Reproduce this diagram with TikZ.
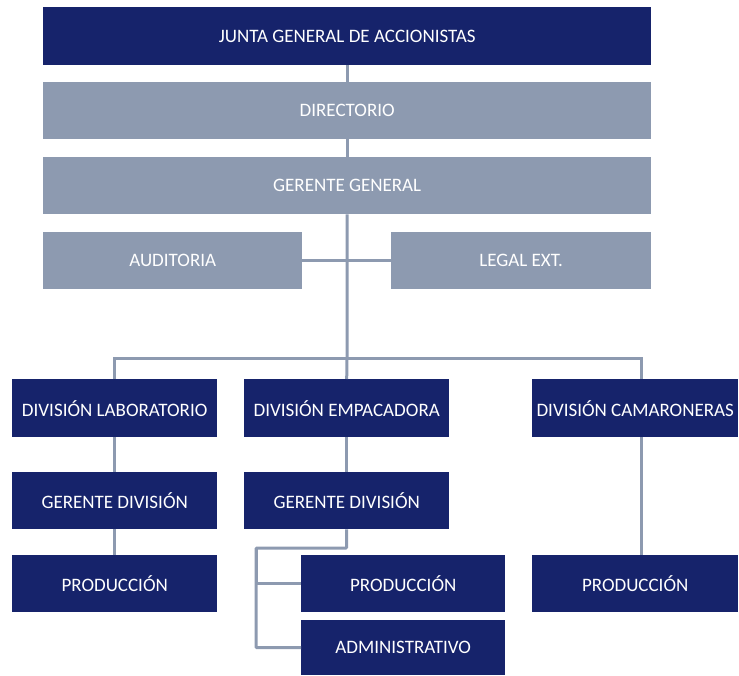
\documentclass[tikz,border=0pt]{standalone}
\usepackage{fontspec}
\setmainfont{Carlito}
\definecolor{navy}{HTML}{16236B}
\definecolor{slate}{HTML}{8D9AB0}
\begin{document}
\begin{tikzpicture}[x=1pt,y=-1pt,
  boxbase/.style={anchor=north west,inner sep=0pt,text=white,font=\fontsize{19}{21}\selectfont,align=center},
  darkbox/.style={boxbase,fill=navy},
  lightbox/.style={boxbase,fill=slate},
  link/.style={draw=slate,line width=3pt}]
\useasboundingbox (0,0) rectangle (739,675);
% top chain
\node[darkbox,minimum width=608pt,minimum height=58pt] (junta) at (43,7) {JUNTA GENERAL DE ACCIONISTAS};
\node[lightbox,minimum width=608pt,minimum height=57pt] (dir) at (43,82) {DIRECTORIO};
\node[lightbox,minimum width=608pt,minimum height=57pt] (ger) at (43,157) {GERENTE GENERAL};
\node[lightbox,minimum width=259pt,minimum height=57pt] (aud) at (43,232) {AUDITORIA};
\node[lightbox,minimum width=260pt,minimum height=57pt] (legal) at (391,232) {LEGAL EXT.};
% divisions
\node[darkbox,minimum width=205pt,minimum height=58pt] (dlab) at (12,379) {DIVISIÓN LABORATORIO};
\node[darkbox,minimum width=205pt,minimum height=58pt] (demp) at (244,379) {DIVISIÓN EMPACADORA};
\node[darkbox,minimum width=206pt,minimum height=58pt] (dcam) at (532,379) {DIVISIÓN CAMARONERAS};
\node[darkbox,minimum width=205pt,minimum height=57pt] (glab) at (12,472) {GERENTE DIVISIÓN};
\node[darkbox,minimum width=205pt,minimum height=57pt] (gemp) at (244,472) {GERENTE DIVISIÓN};
\node[darkbox,minimum width=205pt,minimum height=57pt] (plab) at (12,555) {PRODUCCIÓN};
\node[darkbox,minimum width=204pt,minimum height=57pt] (pemp) at (301,555) {PRODUCCIÓN};
\node[darkbox,minimum width=204pt,minimum height=55pt] (adm) at (301,620) {ADMINISTRATIVO};
\node[darkbox,minimum width=206pt,minimum height=57pt] (pcam) at (532,555) {PRODUCCIÓN};
% connectors
\coordinate (bar) at (347,358);
\coordinate (elb) at (256,548);
\draw[link] (junta.south) -- (dir.north);
\draw[link] (dir.south) -- (ger.north);
\draw[link] (ger.south) -- (bar);
\draw[link] (aud.east) -- (legal.west);
\draw[link] (dlab.north) |- (bar) -| ([xshift=6pt]dcam.north);
\draw[link] (bar) -- (demp.north);
\draw[link] (dlab.south) -- (glab.north);
\draw[link] (glab.south) -- (plab.north);
\draw[link] (demp.south) -- (gemp.north);
\draw[link] ([xshift=6pt]dcam.south) -- ([xshift=6pt]pcam.north);
\draw[link,rounded corners=1pt] (gemp.south) |- (elb) |- (adm.west);
\draw[link] (elb) |- (pemp.west);
\end{tikzpicture}
\end{document}
